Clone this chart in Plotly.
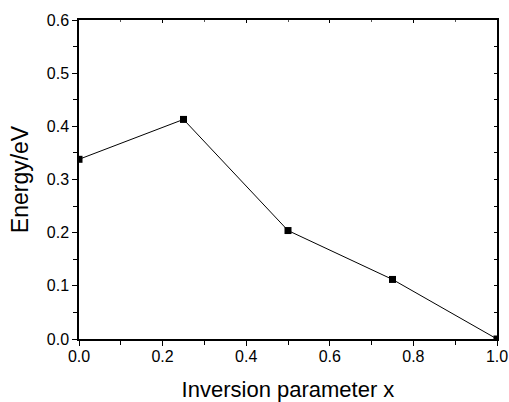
import plotly.graph_objects as go

x_vals = [0.0, 0.25, 0.5, 0.75, 1.0]
energy = [0.338, 0.413, 0.204, 0.112, 0.0]

x_ticks = [0.0, 0.2, 0.4, 0.6, 0.8, 1.0]
x_tick_labels = ["0.0", "0.2", "0.4", "0.6", "0.8", "1.0"]
y_ticks = [0.0, 0.1, 0.2, 0.3, 0.4, 0.5, 0.6]
y_tick_labels = ["0.0", "0.1", "0.2", "0.3", "0.4", "0.5", "0.6"]

font = "Liberation Sans, Arial, sans-serif"

fig = go.Figure()
fig.add_trace(go.Scatter(
    x=x_vals, y=energy, mode="lines+markers",
    line=dict(color="black", width=1),
    marker=dict(symbol="square", size=7, color="black"),
    showlegend=False, cliponaxis=True, hoverinfo="skip",
))
# dummy trace for secondary axes
fig.add_trace(go.Scatter(x=[None], y=[None], xaxis="x2", yaxis="y2", showlegend=False))

common = dict(showgrid=False, zeroline=False, linecolor="black", linewidth=1.5,
              tickcolor="black", tickwidth=1.2, automargin=False)

fig.update_layout(
    width=509, height=402,
    margin=dict(l=79, r=12, t=20, b=63),
    plot_bgcolor="white", paper_bgcolor="white",
    font=dict(family=font, color="black"),
    xaxis=dict(range=[0, 1], tickvals=x_ticks, ticktext=x_tick_labels,
               ticks="outside", ticklen=5, ticklabelstandoff=-3,
               minor=dict(dtick=0.1, ticks="outside", ticklen=4, tickcolor="black", tickwidth=1.2),
               tickfont=dict(size=16),
               title=dict(text="Inversion parameter x", font=dict(size=22), standoff=30),
               **common),
    yaxis=dict(range=[0, 0.6], tickvals=y_ticks, ticktext=y_tick_labels,
               ticks="outside", ticklen=5,
               minor=dict(dtick=0.05, ticks="outside", ticklen=4, tickcolor="black", tickwidth=1.2),
               tickfont=dict(size=16),
               title=dict(text="Energy/eV", font=dict(size=23), standoff=12),
               **common),
    xaxis2=dict(range=[0, 1], overlaying="x", side="top", tickvals=x_ticks,
                showticklabels=False, ticks="inside", ticklen=3,
                minor=dict(dtick=0.1, ticks="inside", ticklen=2, tickcolor="#555", tickwidth=1),
                **common),
    yaxis2=dict(range=[0, 0.6], overlaying="y", side="right", tickvals=y_ticks,
                showticklabels=False, ticks="inside", ticklen=3,
                minor=dict(dtick=0.05, ticks="inside", ticklen=3, tickcolor="black", tickwidth=1),
                **common),
)

# remove the page's default body margin so the figure fills the window exactly
fig.write_html("out.html",
               config={"displayModeBar": False},
               post_script="document.body.style.margin='0';document.body.style.overflow='hidden';")
